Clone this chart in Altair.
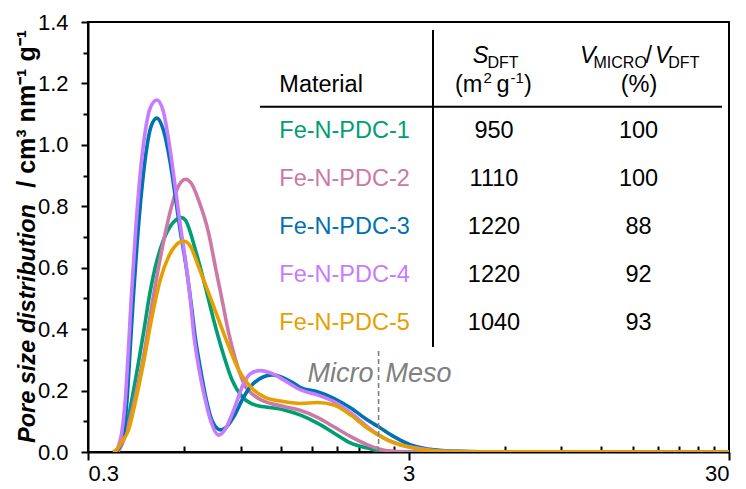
import altair as alt
import pandas as pd

# ---------------- data ----------------
series_names = ["Fe-N-PDC-1", "Fe-N-PDC-2", "Fe-N-PDC-3", "Fe-N-PDC-4", "Fe-N-PDC-5"]
series_colors = ["#009E73", "#CC79A7", "#0072B2", "#C77CFF", "#E69F00"]

pdc1_x = [0.367, 0.378, 0.392, 0.406, 0.431, 0.449, 0.464, 0.486, 0.504, 0.542, 0.566, 0.587, 0.604,
          0.649, 0.697, 0.740, 0.786, 0.845, 0.908, 0.964, 1.024, 1.088, 1.226, 1.382, 1.559, 1.754,
          1.982, 2.236, 2.42, 2.842, 30]
pdc1_y = [0.0, 0.02, 0.061, 0.14, 0.29, 0.40, 0.495, 0.60, 0.66, 0.735, 0.757, 0.763, 0.755,
          0.658, 0.538, 0.43, 0.332, 0.234, 0.18, 0.159, 0.15, 0.146, 0.137, 0.12, 0.094, 0.062,
          0.029, 0.013, 0.004, 0.0, 0.0]

pdc2_x = [0.372, 0.383, 0.397, 0.421, 0.447, 0.475, 0.504, 0.535, 0.566, 0.604, 0.630, 0.664, 0.714,
          0.749, 0.786, 0.825, 0.866, 0.930, 0.987, 1.049, 1.226, 1.382, 1.559, 1.754, 1.982, 2.236,
          2.42, 2.702, 3.05, 30]
pdc2_y = [0.0, 0.025, 0.07, 0.18, 0.31, 0.48, 0.63, 0.76, 0.85, 0.888, 0.875, 0.82, 0.712,
          0.603, 0.495, 0.386, 0.30, 0.213, 0.185, 0.168, 0.148, 0.135, 0.113, 0.082, 0.05, 0.023,
          0.01, 0.002, 0.0, 0.0]

pdc3_x = [0.367, 0.386, 0.397, 0.406, 0.415, 0.427, 0.443, 0.459, 0.472, 0.492, 0.515, 0.542, 0.562,
          0.582, 0.608, 0.630, 0.649, 0.673, 0.702, 0.733, 0.777, 0.817, 0.855, 0.919, 0.987, 1.127,
          1.315, 1.382, 1.559, 1.754, 1.982, 2.236, 2.42, 2.702, 3.05, 3.44, 4.38, 5.84, 30]
pdc3_y = [0.0, 0.05, 0.169, 0.332, 0.495, 0.68, 0.87, 1.0, 1.06, 1.087, 1.05, 0.94, 0.83,
          0.72, 0.60, 0.48, 0.37, 0.27, 0.17, 0.10, 0.072, 0.085, 0.115, 0.18, 0.224, 0.251,
          0.224, 0.21, 0.196, 0.175, 0.143, 0.104, 0.082, 0.05, 0.023, 0.01, 0.002, 0.0, 0.0]

pdc4_x = [0.362, 0.372, 0.382, 0.392, 0.401, 0.409, 0.421, 0.436, 0.452, 0.469, 0.492, 0.515, 0.542,
          0.562, 0.582, 0.604, 0.626, 0.641, 0.664, 0.697, 0.723, 0.767, 0.805, 0.855, 0.919, 0.964,
          1.036, 1.127, 1.226, 1.382, 1.559, 1.754, 1.982, 2.236, 2.42, 2.842, 3.21, 3.79, 5.84, 30]
pdc4_y = [0.0, 0.015, 0.061, 0.169, 0.332, 0.495, 0.70, 0.90, 1.04, 1.12, 1.146, 1.11, 0.98,
          0.86, 0.74, 0.625, 0.495, 0.386, 0.278, 0.169, 0.104, 0.055, 0.075, 0.137, 0.224, 0.255,
          0.265, 0.255, 0.234, 0.202, 0.186, 0.164, 0.127, 0.082, 0.055, 0.023, 0.012, 0.003, 0.0, 0.0]

pdc5_x = [0.359, 0.372, 0.383, 0.401, 0.421, 0.447, 0.469, 0.486, 0.504, 0.535, 0.566, 0.596, 0.626,
          0.664, 0.714, 0.767, 0.825, 0.886, 0.976, 1.074, 1.226, 1.382, 1.559, 1.754, 1.982, 2.236,
          2.42, 2.702, 3.05, 3.53, 4.38, 30]
pdc5_y = [0.0, 0.012, 0.035, 0.07, 0.16, 0.29, 0.41, 0.49, 0.56, 0.636, 0.675, 0.687, 0.67,
          0.603, 0.517, 0.43, 0.343, 0.267, 0.207, 0.177, 0.164, 0.158, 0.161, 0.153, 0.12, 0.077,
          0.055, 0.03, 0.015, 0.005, 0.001, 0.0]

s_dft = ["950", "1110", "1220", "1220", "1040"]
v_ratio = ["100", "100", "88", "92", "93"]

y_ticks = [0.0, 0.2, 0.4, 0.6, 0.8, 1.0, 1.2, 1.4]
y_minor = [0.1, 0.3, 0.5, 0.7, 0.9, 1.1, 1.3]
x_ticks = [0.3, 3, 30]
x_minor = [0.6, 0.9, 1.2, 1.5, 1.8, 2.1, 2.4, 2.7, 6, 9, 12, 15, 18, 21, 24, 27]

boundary_nm = 2.42
boundary_top = 0.332

# ---------------- layout ----------------
W, H = 641, 430
FONT = "Liberation Sans"
xscale = alt.Scale(type="log", domain=[0.3, 30], nice=False)
yscale = alt.Scale(domain=[0, 1.4], nice=False, zero=False)

layers = []

all_x = [pdc1_x, pdc2_x, pdc3_x, pdc4_x, pdc5_x]
all_y = [pdc1_y, pdc2_y, pdc3_y, pdc4_y, pdc5_y]
for i, (xs, ys) in enumerate(zip(all_x, all_y)):
    df = pd.DataFrame({"d": xs, "v": ys})
    if i == 0:
        xax = alt.Axis(orient="bottom", values=x_ticks, format="~g", tickSize=8, labelPadding=3,
                       grid=False, title=None)
        yax = alt.Axis(orient="left", values=y_ticks, format=".1f", tickSize=7, labelPadding=13,
                       grid=False, title=None)
    else:
        xax = None
        yax = None
    layers.append(
        alt.Chart(df).mark_line(color=series_colors[i], strokeWidth=3.6, interpolate="monotone",
                                clip=True)
        .encode(x=alt.X("d:Q", scale=xscale, axis=xax), y=alt.Y("v:Q", scale=yscale, axis=yax))
    )

# minor ticks
layers.append(
    alt.Chart(pd.DataFrame({"v": y_minor})).mark_tick(opacity=0).encode(
        y=alt.Y("v:Q", scale=yscale,
                axis=alt.Axis(orient="left", values=y_minor, labels=False, domain=False, tickSize=5,
                              grid=False, title=None)))
)
layers.append(
    alt.Chart(pd.DataFrame({"d": x_minor})).mark_tick(opacity=0).encode(
        x=alt.X("d:Q", scale=xscale,
                axis=alt.Axis(orient="top", offset=-H, values=x_minor, labels=False, domain=False,
                              tickSize=6, grid=False, title=None)))
)

# micro/meso boundary
bdf = pd.DataFrame({"d": [boundary_nm], "v0": [0.0], "v1": [boundary_top]})
layers.append(
    alt.Chart(bdf).mark_rule(color="#808080", strokeDash=[5, 3], strokeWidth=1.6).encode(
        x=alt.X("d:Q", scale=xscale, axis=None), y=alt.Y("v0:Q", scale=yscale, axis=None), y2="v1:Q")
)
label_y = 0.229
ldf = pd.DataFrame({"d": [boundary_nm], "v": [label_y]})
layers.append(
    alt.Chart(ldf).mark_text(text="Micro", align="right", baseline="alphabetic", dx=-5, font=FONT,
                             fontSize=27, fontStyle="italic", color="#808080")
    .encode(x=alt.X("d:Q", scale=xscale, axis=None), y=alt.Y("v:Q", scale=yscale, axis=None))
)
layers.append(
    alt.Chart(ldf).mark_text(text="Meso", align="left", baseline="alphabetic", dx=7, font=FONT,
                             fontSize=27, fontStyle="italic", color="#808080")
    .encode(x=alt.X("d:Q", scale=xscale, axis=None), y=alt.Y("v:Q", scale=yscale, axis=None))
)

# y-axis title (mixed style): first part anchored at the bottom, second at the top
layers.append(
    alt.Chart(pd.DataFrame({"a": [0]})).mark_text(text="Pore size distribution", angle=270, align="left",
                                                   baseline="alphabetic", font=FONT, fontSize=23.5,
                                                   fontWeight="bold", fontStyle="italic", color="black")
    .encode(x=alt.value(-53), y=alt.value(421))
)
layers.append(
    alt.Chart(pd.DataFrame({"a": [0]})).mark_text(text="/ cm³ nm⁻¹ g⁻¹", angle=270, align="right",
                                                   baseline="alphabetic", font=FONT, fontSize=25,
                                                   fontWeight="bold", color="black")
    .encode(x=alt.value(-53), y=alt.value(8))
)

# ---------------- inset table ----------------
row0, row_step = 116.3, 48
rows_py = [row0 + i * row_step for i in range(len(series_names))]
name_x, col2_x, col3_x = 191.3, 406, 550.5

layers.append(
    alt.Chart(pd.DataFrame({"t": series_names, "c": series_colors, "py": rows_py}))
    .mark_text(align="left", baseline="alphabetic", font=FONT, fontSize=23.5)
    .encode(x=alt.value(name_x), y=alt.Y("py:Q", scale=None, axis=None), text="t:N",
            color=alt.Color("c:N", scale=None))
)
for col_vals, cx in [(s_dft, col2_x), (v_ratio, col3_x)]:
    layers.append(
        alt.Chart(pd.DataFrame({"t": col_vals, "py": rows_py}))
        .mark_text(align="center", baseline="alphabetic", font=FONT, fontSize=23.5, color="black")
        .encode(x=alt.value(cx), y=alt.Y("py:Q", scale=None, axis=None), text="t:N")
    )

hdr_main = pd.DataFrame({"t": ["Material", "(m", "g", ")", "/", "(%)"],
                         "px": [191.3, 367, 408.5, 436, 557.5, 532.7],
                         "py": [69.5, 69.5, 69.5, 69.5, 41.3, 69.5]})
hdr_ital = pd.DataFrame({"t": ["S", "V", "V"], "px": [384.7, 492, 567], "py": [41.3, 41.3, 41.3]})
hdr_sub = pd.DataFrame({"t": ["DFT", "MICRO", "DFT"], "px": [399.5, 505.5, 580.3],
                        "py": [46.3, 46.3, 46.3]})
hdr_sup = pd.DataFrame({"t": ["2", "-1"], "px": [395.5, 422.5], "py": [61, 61]})
for df, size, style in [(hdr_main, 23.5, "normal"), (hdr_ital, 23.5, "italic"),
                        (hdr_sub, 16, "normal"), (hdr_sup, 15, "normal")]:
    layers.append(
        alt.Chart(df).mark_text(align="left", baseline="alphabetic", font=FONT, fontSize=size,
                                fontStyle=style, color="black")
        .encode(x=alt.X("px:Q", scale=None, axis=None), y=alt.Y("py:Q", scale=None, axis=None),
                text="t:N")
    )

# table rules
layers.append(
    alt.Chart(pd.DataFrame({"a": [0]})).mark_rule(color="black", strokeWidth=2)
    .encode(x=alt.value(345), y=alt.value(8), y2=alt.value(325))
)
layers.append(
    alt.Chart(pd.DataFrame({"a": [0]})).mark_rule(color="black", strokeWidth=2)
    .encode(x=alt.value(172), x2=alt.value(634), y=alt.value(84.7))
)

chart = (
    alt.layer(*layers)
    .resolve_scale(x="independent", y="independent")
    .properties(width=W, height=H, autosize=alt.AutoSizeParams(type="none"),
                padding={"left": 88, "top": 22, "right": 17, "bottom": 37}, background="white")
    .configure_view(stroke="black", strokeWidth=2)
    .configure_axis(domainColor="black", domainWidth=2, tickColor="black", tickWidth=2,
                    labelFont=FONT, labelFontSize=22, labelColor="black")
)

chart.save("out.html", embed_options={"renderer": "svg", "actions": False})
